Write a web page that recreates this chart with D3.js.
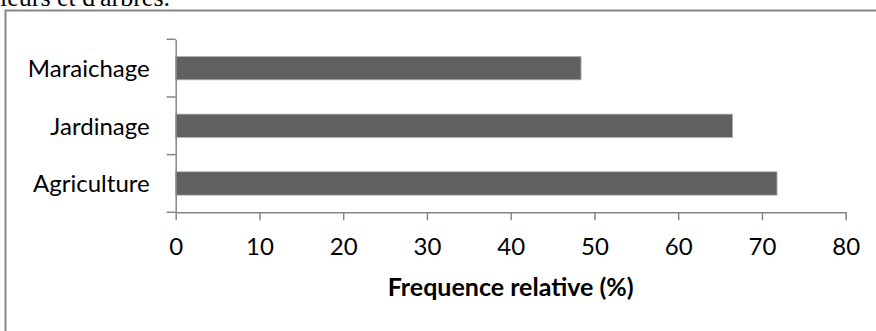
<!DOCTYPE html>
<html>
<head>
<meta charset="utf-8">
<script src="https://cdn.jsdelivr.net/npm/d3@7"></script>
<style>
  html, body { margin: 0; padding: 0; background: #fff; }
  svg { display: block; }
</style>
</head>
<body>
<svg id="chart" width="876" height="331"></svg>
<script>
// data
const categories = ["Maraichage", "Jardinage", "Agriculture"];
const values = [48.4, 66.5, 71.8];
const xTicks = [0, 10, 20, 30, 40, 50, 60, 70, 80];
const xTitle = "Frequence relative (%)";
const pageText = "leurs et d'arbres.";

const svg = d3.select("#chart");
const axisColor = "#868686";
const font = "Lato, 'Open Sans', sans-serif";

// bit of the document text cut off above the chart (cut in the reference too)
svg.append("text")
    .attr("x", 0)
    .attr("y", 6)
    .attr("font-family", "'Liberation Serif', 'DejaVu Serif', serif")
    .attr("font-size", 26)
    .attr("fill", "#000")
    .text(pageText);

// chart frame (only top and left edges are in view)
svg.append("path")
    .attr("d", "M5.5,331V10.5H876")
    .attr("fill", "none")
    .attr("stroke", axisColor)
    .attr("stroke-width", 2);

const x = d3.scaleLinear().domain([0, 80]).range([175.7, 845.7]);
const y = d3.scaleBand()
    .domain(categories)
    .range([39.3, 212.3])
    .paddingInner(0.594)
    .paddingOuter(0.297);

// bars
svg.append("g")
    .selectAll("rect")
    .data(categories.map((c, i) => ({ cat: c, value: values[i] })))
    .enter().append("rect")
    .attr("x", x(0))
    .attr("y", d => y(d.cat))
    .attr("width", d => x(d.value) - x(0))
    .attr("height", y.bandwidth())
    .attr("fill", "#606060")
    .attr("stroke", "#b4b4b4")
    .attr("stroke-width", 0.8);

// x axis
const gx = svg.append("g")
    .attr("transform", `translate(0,${y.range()[1]})`)
    .call(d3.axisBottom(x).tickValues(xTicks).tickSize(8).tickSizeOuter(0).tickPadding(0));
gx.select(".domain").attr("stroke", axisColor).attr("stroke-width", 1.5);
gx.selectAll(".tick line").attr("stroke", axisColor).attr("stroke-width", 1.5);
gx.selectAll(".tick text")
    .attr("y", 42.7)
    .attr("dy", null)
    .attr("font-family", font)
    .attr("font-size", 24)
    .attr("fill", "#000");

// y axis
const gy = svg.append("g")
    .attr("transform", `translate(${x(0)},0)`)
    .call(d3.axisLeft(y).tickSize(0).tickSizeOuter(0).tickPadding(26));
gy.select(".domain").attr("stroke", axisColor).attr("stroke-width", 1.5);
gy.selectAll(".tick text")
    .attr("dy", "0.37em")
    .attr("font-family", font)
    .attr("font-size", 24)
    .attr("fill", "#000");

// category boundary ticks, excel style
const bounds = categories.map(c => y(c) - y.step() * y.paddingInner() / 2).concat([y.range()[1]]);
gy.selectAll(".bound")
    .data(bounds)
    .enter().append("line")
    .attr("class", "bound")
    .attr("x1", -9).attr("x2", 0)
    .attr("y1", d => d).attr("y2", d => d)
    .attr("stroke", axisColor)
    .attr("stroke-width", 1.5);

// axis title
svg.append("text")
    .attr("x", (x.range()[0] + x.range()[1]) / 2)
    .attr("y", 296)
    .attr("text-anchor", "middle")
    .attr("font-family", font)
    .attr("font-weight", "bold")
    .attr("font-size", 25)
    .attr("fill", "#000")
    .text(xTitle);
</script>
</body>
</html>
